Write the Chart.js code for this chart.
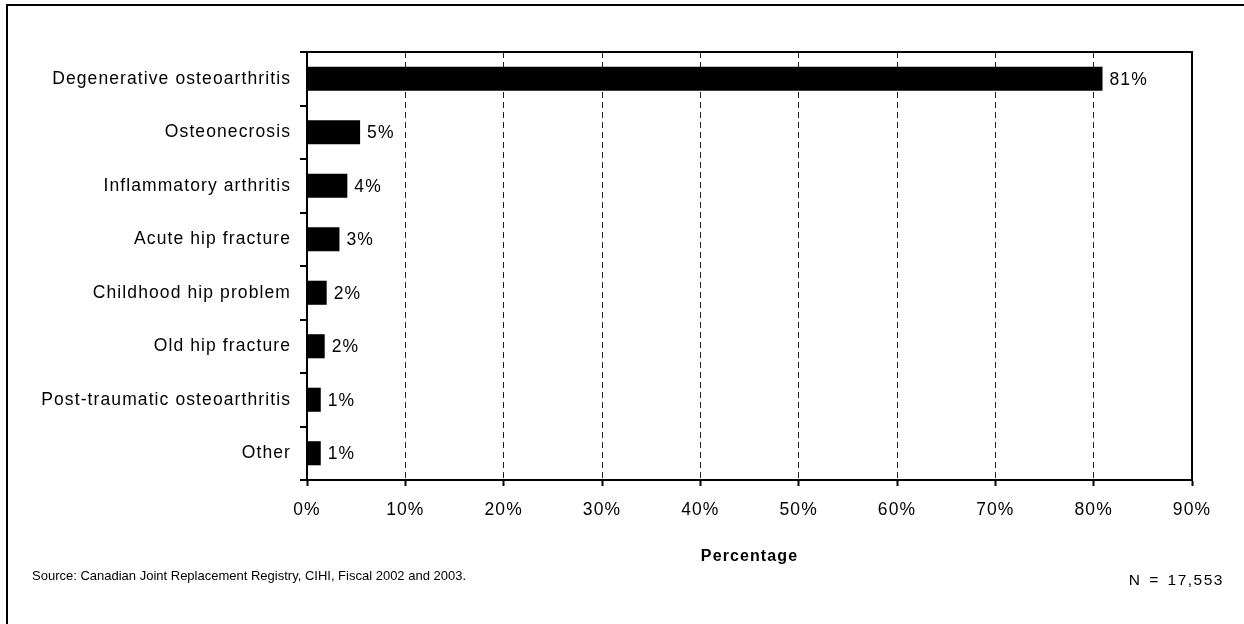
<!DOCTYPE html>
<html>
<head>
<meta charset="utf-8">
<script src="https://cdn.jsdelivr.net/npm/chart.js@4.4.0/dist/chart.umd.min.js"></script>
<style>
    html, body { margin: 0; padding: 0; background: #fff; }
    #wrap { position: relative; width: 1244px; height: 624px; overflow: hidden; }
    #frame {
        position: absolute; left: 6px; top: 4px; width: 1300px; height: 700px;
        border-left: 2px solid #000; border-top: 2px solid #000;
    }
    #chart { position: absolute; left: 0; top: 0; }
    .note { position: absolute; font-family: "Liberation Sans", Arial, sans-serif; color: #000; }
    #source { left: 32px; top: 568px; font-size: 13px; }
    #count { right: 20px; top: 571px; font-size: 15.5px; letter-spacing: 1.5px; word-spacing: 2px; }
</style>
</head>
<body>
<div id="wrap">
    <div id="frame"></div>
    <canvas id="chart" width="1244" height="624"></canvas>
    <div id="source" class="note">Source: Canadian Joint Replacement Registry, CIHI, Fiscal 2002 and 2003.</div>
    <div id="count" class="note">N = 17,553</div>
</div>
<script>
const diagnoses = [
    'Degenerative osteoarthritis',
    'Osteonecrosis',
    'Inflammatory arthritis',
    'Acute hip fracture',
    'Childhood hip problem',
    'Old hip fracture',
    'Post-traumatic osteoarthritis',
    'Other'
];
const percentages = [80.9, 5.4, 4.1, 3.3, 2.0, 1.8, 1.4, 1.4];
const valueLabels = ['81%', '5%', '4%', '3%', '2%', '2%', '1%', '1%'];
const xTicks = [0, 10, 20, 30, 40, 50, 60, 70, 80, 90];

const FONT = '"Liberation Sans", Arial, sans-serif';
const SPACING = '1.1px';

// wide tracking for all chart text
const tracking = {
    id: 'tracking',
    beforeDraw(chart) {
        chart.ctx.letterSpacing = SPACING;
    }
};

// box around the plot area plus the value labels at the end of each bar
const plotExtras = {
    id: 'plotExtras',
    afterDatasetsDraw(chart) {
        const { ctx, chartArea } = chart;
        ctx.save();
        ctx.strokeStyle = '#000';
        ctx.lineWidth = 2;
        ctx.setLineDash([]);
        ctx.beginPath();
        ctx.moveTo(chartArea.left, chartArea.top);
        ctx.lineTo(chartArea.right, chartArea.top);
        ctx.lineTo(chartArea.right, chartArea.bottom);
        ctx.stroke();

        ctx.letterSpacing = SPACING;
        ctx.fillStyle = '#000';
        ctx.font = '17.5px ' + FONT;
        ctx.textBaseline = 'middle';
        ctx.textAlign = 'left';
        chart.getDatasetMeta(0).data.forEach((bar, i) => {
            ctx.fillText(valueLabels[i], bar.x + 7, bar.y + 1);
        });
        ctx.restore();
    }
};

new Chart(document.getElementById('chart'), {
    type: 'bar',
    data: {
        labels: diagnoses,
        datasets: [{
            data: percentages,
            backgroundColor: '#000',
            borderWidth: 0,
            categoryPercentage: 1,
            barPercentage: 0.45
        }]
    },
    options: {
        indexAxis: 'y',
        responsive: false,
        animation: false,
        layout: { padding: { top: 52, right: 52, left: 0, bottom: 54 } },
        plugins: {
            legend: { display: false },
            tooltip: { enabled: false }
        },
        scales: {
            x: {
                min: 0,
                max: 90,
                afterBuildTicks: (scale) => { scale.ticks = xTicks.map(v => ({ value: v })); },
                afterFit: (scale) => { scale.height = 90; },
                grid: {
                    color: '#222',
                    lineWidth: 1,
                    tickLength: 6,
                    tickColor: '#000',
                    tickWidth: 2,
                    tickBorderDash: []
                },
                border: { display: true, color: '#000', width: 2, dash: [6, 4] },
                ticks: {
                    color: '#000',
                    font: { family: FONT, size: 17.5 },
                    padding: 14,
                    callback: (v) => v + '%'
                },
                title: {
                    display: true,
                    text: 'Percentage',
                    color: '#000',
                    font: { family: FONT, size: 16, weight: 'bold' },
                    padding: { top: 18 }
                }
            },
            y: {
                afterFit: (scale) => { scale.width = 307; },
                grid: {
                    display: true,
                    drawOnChartArea: false,
                    offset: true,
                    tickLength: 7,
                    tickColor: '#000',
                    lineWidth: 2
                },
                border: { display: true, color: '#000', width: 2 },
                ticks: {
                    color: '#000',
                    font: { family: FONT, size: 17.5 },
                    padding: 9
                }
            }
        }
    },
    plugins: [tracking, plotExtras]
});
</script>
</body>
</html>
